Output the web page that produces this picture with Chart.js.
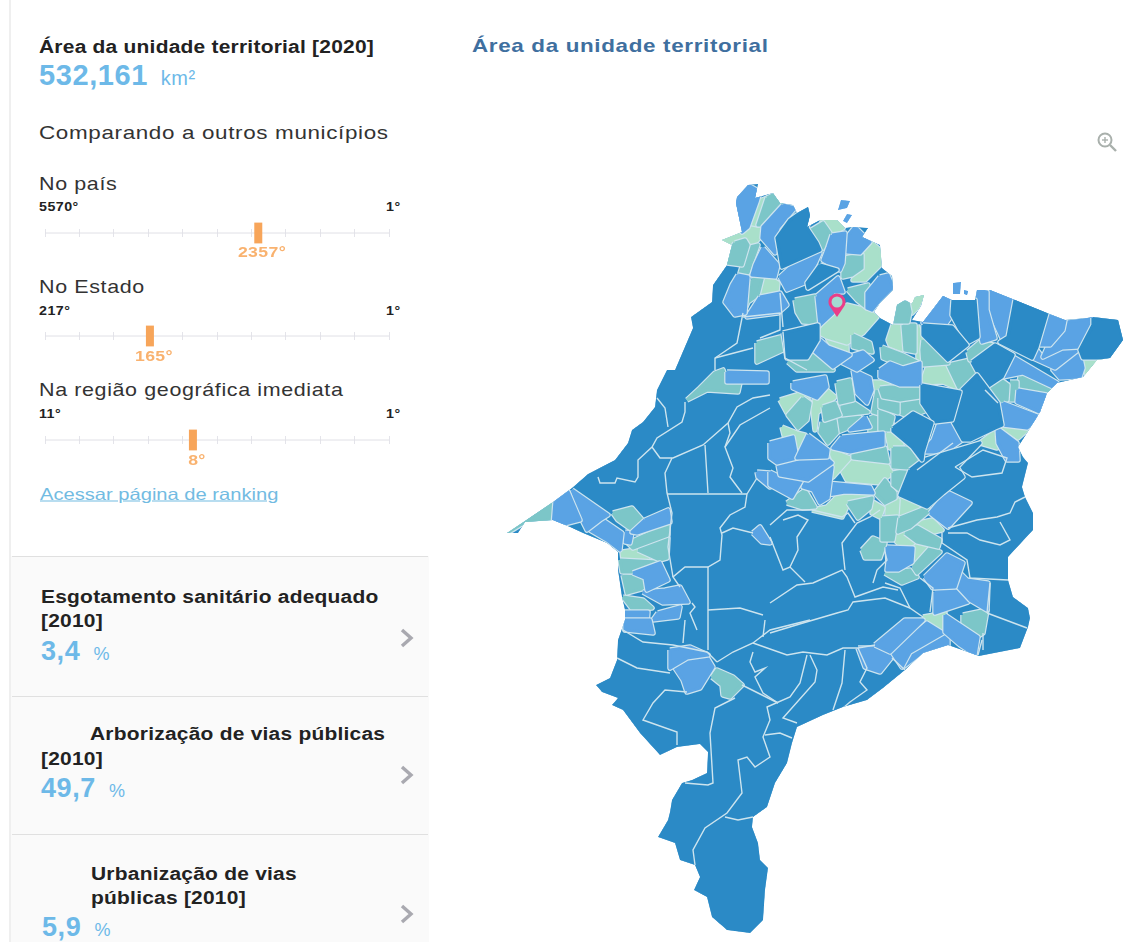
<!DOCTYPE html>
<html lang="pt">
<head>
<meta charset="utf-8">
<title>Área da unidade territorial</title>
<script src="https://cdn.jsdelivr.net/npm/chart.js@4"></script>
<style>
  html, body { margin: 0; padding: 0; background: #fff; }
  body { position: relative; width: 1132px; height: 942px; overflow: hidden; font-family: "Liberation Sans", Arial, sans-serif; color: #222; }
  canvas { position: absolute; display: block; }
  .t { position: absolute; white-space: nowrap; transform-origin: left center; transform: translateY(-50%) scaleX(var(--sx, 1)); }
  .strong { font-weight: bold; font-size: 17.6px; letter-spacing: .2px; color: #222; --sx: 1.19; }
  .sub { font-size: 19px; letter-spacing: .55px; color: #333; --sx: 1.13; }
  .end { font-weight: bold; font-size: 12.5px; letter-spacing: .4px; color: #222; --sx: 1.14; }
  .value { font-weight: bold; font-size: 27px; letter-spacing: .6px; color: #6db9e8; }
  .value small { font-size: 18px; font-weight: normal; margin-left: 5px; }
  .rank { font-weight: bold; font-size: 14px; letter-spacing: .3px; color: #f9b26f; transform-origin: center; transform: translate(-50%, -50%) scaleX(1.26); }
  #leftRule { position: absolute; left: 9px; top: 0; width: 2px; height: 942px; background: #efefef; }
  #lowerPanel { position: absolute; left: 11px; top: 556px; width: 418px; height: 386px; background: #fafafa; }
  .rule { position: absolute; left: 12px; width: 416px; height: 1px; background: #e0e0e0; }
  .chev { position: absolute; left: 399px; width: 16px; height: 22px; }
</style>
</head>
<body>
<div id="leftRule"></div>
<div id="lowerPanel"></div>
<div class="rule" style="top:556px"></div>
<div class="rule" style="top:696px"></div>
<div class="rule" style="top:834px"></div>

<div class="t strong" style="left:39px;top:47px">Área da unidade territorial [2020]</div>
<div class="t value" style="left:39px;top:75px;font-size:29px">532,161 <small style="font-size:20px;margin-left:4px">km²</small></div>
<div class="t sub" style="left:39px;top:133px;--sx:1.18">Comparando a outros municípios</div>

<div class="t sub" style="left:39px;top:184px">No país</div>
<div class="t end" style="left:39px;top:207px">5570°</div>
<div class="t end" style="left:386px;top:207px">1°</div>
<div class="t sub" style="left:39px;top:287px">No Estado</div>
<div class="t end" style="left:39px;top:311px">217°</div>
<div class="t end" style="left:386px;top:311px">1°</div>
<div class="t sub" style="left:39px;top:390px">Na região geográfica imediata</div>
<div class="t end" style="left:39px;top:414px">11°</div>
<div class="t end" style="left:386px;top:414px">1°</div>
<div class="t" style="left:40px;top:494px;font-size:16.5px;color:#72bbe2;text-decoration:underline;--sx:1.22">Acessar página de ranking</div>

<div class="t strong" style="left:41px;top:597px">Esgotamento sanitário adequado</div>
<div class="t strong" style="left:41px;top:621px">[2010]</div>
<div class="t value" style="left:41px;top:651px">3,4 <small>%</small></div>
<div class="t strong" style="left:90px;top:734px">Arborização de vias públicas</div>
<div class="t strong" style="left:41px;top:759px">[2010]</div>
<div class="t value" style="left:41px;top:788px">49,7 <small>%</small></div>
<div class="t strong" style="left:91px;top:874px">Urbanização de vias</div>
<div class="t strong" style="left:91px;top:898px">públicas [2010]</div>
<div class="t value" style="left:42px;top:927px">5,9 <small>%</small></div>

<svg class="chev" style="top:627px" viewBox="0 0 16 22"><polyline points="3,3 12,11 3,19" fill="none" stroke="#a9a9b0" stroke-width="3.4"/></svg>
<svg class="chev" style="top:764px" viewBox="0 0 16 22"><polyline points="3,3 12,11 3,19" fill="none" stroke="#a9a9b0" stroke-width="3.4"/></svg>
<svg class="chev" style="top:903px" viewBox="0 0 16 22"><polyline points="3,3 12,11 3,19" fill="none" stroke="#a9a9b0" stroke-width="3.4"/></svg>

<div class="t" style="left:472px;top:46px;font-weight:bold;font-size:19px;letter-spacing:.55px;color:#3f6f9f;--sx:1.18">Área da unidade territorial</div>
<svg style="position:absolute;left:1096px;top:131px" width="22" height="22" viewBox="0 0 22 22">
  <circle cx="9" cy="9" r="6.5" fill="none" stroke="#a9b0ac" stroke-width="2"/>
  <line x1="14" y1="14" x2="20" y2="20" stroke="#a9b0ac" stroke-width="2.4"/>
  <line x1="6" y1="9" x2="12" y2="9" stroke="#a9b0ac" stroke-width="1.4"/>
  <line x1="9" y1="6" x2="9" y2="12" stroke="#a9b0ac" stroke-width="1.4"/>
</svg>

<canvas id="rankCountry" width="380" height="30" style="left:35px;top:218px"></canvas>
<canvas id="rankState" width="380" height="30" style="left:35px;top:321px"></canvas>
<canvas id="rankRegion" width="380" height="30" style="left:35px;top:425px"></canvas>
<canvas id="mapChart" width="662" height="772" style="left:470px;top:170px"></canvas>

<script>
// rankings: posicao do marcador (0 = ultimo, 100 = primeiro)
const rankLabels = ['2357°', '165°', '8°'];
const rankPositions = [62, 30.5, 43];
const rankCanvases = ['rankCountry', 'rankState', 'rankRegion'];
const rankLabelTops = [252, 356, 460];

// mapa: coordenadas
const stateOutline = [[748,185],[758,184],[755,198],[773,193],[780,203],[793,205],[797,213],[808,207],[810,215],[807,227],[820,220],[837,220],[845,228],[853,227],[868,228],[862,237],[880,245],[882,268],[892,276],[893,290],[880,303],[874,312],[880,318],[893,325],[897,305],[905,300],[912,304],[915,297],[924,295],[921,306],[912,320],[923,322],[943,296],[952,300],[975,300],[977,290],[990,290],[1015,300],[1047,313],[1065,320],[1087,318],[1093,317],[1118,320],[1123,340],[1110,358],[1097,360],[1083,377],[1057,383],[1047,393],[1040,412],[1027,433],[1018,447],[1023,457],[1028,463],[1022,487],[1025,497],[1033,513],[1033,530],[1008,557],[1008,580],[1013,597],[1028,608],[1030,618],[1028,627],[1020,648],[979,656],[948,645],[923,653],[905,670],[883,688],[867,700],[843,707],[823,715],[797,727],[792,743],[787,763],[775,783],[767,807],[753,817],[752,827],[758,843],[760,860],[768,868],[765,890],[763,920],[750,933],[727,930],[712,917],[707,897],[694,890],[700,877],[695,865],[680,860],[675,843],[658,837],[668,820],[670,812],[672,800],[682,783],[692,780],[707,773],[708,752],[700,744],[677,747],[660,755],[640,733],[623,710],[612,705],[618,698],[602,692],[596,685],[610,678],[617,660],[618,640],[625,620],[625,610],[622,597],[618,570],[618,552],[607,543],[583,533],[570,527],[553,520],[525,522],[518,533],[507,533],[522,523],[553,502],[572,488],[588,474],[615,460],[628,443],[632,430],[643,422],[655,407],[657,390],[667,370],[675,370],[693,328],[691,317],[705,307],[712,302],[713,285],[727,265],[732,245],[722,240],[742,232],[736,203],[737,197]];

const islandAreas = [
  [[841,200],[850,201],[847,208],[838,210]],
  [[847,214],[852,215],[847,223],[843,221]],
  [[953,283],[961,282],[960,294],[953,294]],
  [[964,290],[968,291],[967,295],[964,294]]
];

const midBlueAreas = [
  [[748,185],[760,192],[757,202],[748,227],[742,232],[735,202]],
  [[783,205],[795,208],[778,228],[775,253],[762,238],[763,227]],
  [[763,248],[778,265],[775,277],[752,275],[755,265]],
  [[738,275],[748,277],[745,313],[735,315],[725,302],[732,285]],
  [[760,297],[780,293],[787,305],[778,313],[747,317]],
  [[780,277],[793,265],[820,253],[807,282],[787,290]],
  [[832,235],[845,233],[843,263],[840,270],[823,260],[828,247]],
  [[847,237],[855,227],[870,242],[860,253],[847,252]],
  [[817,296],[838,278],[843,292],[833,292],[828,303],[833,313],[820,325]],
  [[880,277],[888,275],[893,287],[880,300],[872,310],[867,308],[867,293]],
  [[818,338],[828,347],[850,355],[833,367],[813,350]],
  [[837,360],[863,352],[872,360],[857,370]],
  [[943,295],[952,302],[952,315],[945,325],[923,323],[923,317]],
  [[977,290],[987,292],[987,310],[995,338],[982,342],[978,323]],
  [[990,290],[1015,300],[1008,335],[1002,338],[988,308]],
  [[1048,315],[1065,320],[1063,330],[1050,345],[1037,345],[1043,330]],
  [[1067,322],[1083,320],[1093,318],[1093,325],[1080,347],[1062,348],[1043,357],[1047,348],[1063,333]],
  [[1037,350],[1043,358],[1062,350],[1078,350],[1055,368],[1033,358]],
  [[1080,353],[1083,368],[1080,377],[1060,378],[1053,370]],
  [[1013,357],[1057,383],[1053,387],[1023,373],[1003,377],[1007,367]],
  [[1018,390],[1047,395],[1042,413],[1017,402]],
  [[1003,403],[1040,417],[1027,428],[1002,425],[1000,413]],
  [[997,428],[1017,443],[1018,460],[1007,460],[998,443]],
  [[940,420],[953,420],[965,438],[945,452],[922,452],[933,440]],
  [[880,370],[890,363],[903,368],[920,363],[920,385],[900,385],[880,377]],
  [[793,383],[825,377],[827,387],[817,398],[793,388]],
  [[853,370],[870,378],[872,390],[867,403],[857,393]],
  [[865,417],[870,427],[850,430]],
  [[842,437],[883,433],[883,445],[850,452],[833,448]],
  [[808,435],[828,450],[827,457],[797,458]],
  [[770,443],[793,437],[797,458],[777,463],[770,458]],
  [[778,465],[825,457],[832,463],[808,480],[780,475]],
  [[770,472],[780,477],[803,478],[792,497],[770,485]],
  [[805,482],[832,467],[828,498],[820,503],[813,490],[803,487]],
  [[828,483],[870,487],[873,493],[845,492],[828,495]],
  [[887,547],[913,548],[912,562],[898,570],[887,570],[888,562]],
  [[925,577],[947,555],[963,563],[955,587],[933,588]],
  [[957,570],[967,580],[988,583],[987,610],[970,600],[958,587]],
  [[935,592],[955,587],[968,602],[935,613]],
  [[930,513],[947,492],[970,503],[948,527]],
  [[945,615],[963,627],[978,637],[975,655],[960,645],[945,632]],
  [[875,645],[905,620],[923,620],[890,652]],
  [[892,652],[927,623],[943,633],[910,652],[902,667]],
  [[903,667],[912,650],[948,635],[948,645],[923,652]],
  [[858,648],[883,648],[892,657],[880,672],[865,667]],
  [[670,650],[690,647],[708,655],[687,658],[670,668]],
  [[675,668],[690,657],[707,657],[713,667],[700,688],[687,692],[683,680]],
  [[625,620],[650,620],[653,633],[625,630]],
  [[555,502],[568,492],[580,520],[553,527]],
  [[572,490],[608,515],[600,520],[587,530],[582,520]],
  [[590,530],[603,520],[622,533],[620,550],[607,540]],
  [[645,520],[668,510],[670,522],[637,533],[632,532]],
  [[625,532],[632,533],[630,543],[625,542]],
  [[633,573],[660,563],[668,580],[647,590],[645,578]],
  [[643,592],[665,590],[680,587],[688,602],[663,603]],
  [[625,612],[648,612],[647,623],[625,630]],
  [[658,613],[680,607],[678,617],[653,620]],
  [[753,533],[760,527],[770,543],[762,542]],
  [[757,472],[770,473],[770,487],[758,477]],
  [[727,372],[767,373],[767,382],[727,382]]
];

const tealAreas = [
  [[767,198],[773,195],[782,203],[770,215],[763,225],[758,225]],
  [[735,243],[745,240],[748,245],[742,265],[727,263],[728,253]],
  [[750,247],[758,245],[748,273],[740,273],[745,257]],
  [[752,280],[763,275],[758,295],[748,302],[743,313]],
  [[808,232],[823,223],[830,233],[823,248],[817,240]],
  [[843,258],[862,255],[862,268],[852,275],[843,277]],
  [[795,300],[815,296],[817,323],[803,322],[797,312]],
  [[848,290],[868,285],[867,308],[857,300]],
  [[757,343],[780,337],[783,350],[757,362]],
  [[853,335],[870,343],[872,352],[853,347]],
  [[788,362],[817,353],[833,370],[797,370]],
  [[897,303],[908,302],[910,312],[908,322],[895,322]],
  [[923,340],[948,357],[948,363],[923,365],[922,350]],
  [[968,352],[980,342],[993,345],[970,360]],
  [[948,365],[970,360],[977,370],[960,390]],
  [[882,347],[903,355],[917,362],[900,365],[883,358]],
  [[903,325],[915,325],[915,352],[905,350]],
  [[997,377],[1008,385],[1007,400],[997,402],[985,390]],
  [[1010,382],[1017,382],[1017,400],[1010,400]],
  [[1020,377],[1027,375],[1052,385],[1050,392],[1018,387]],
  [[880,388],[890,387],[922,388],[920,397],[900,400],[883,397]],
  [[880,398],[898,402],[898,413],[880,407]],
  [[900,402],[920,397],[927,410],[910,417],[900,413]],
  [[880,410],[893,417],[890,430],[880,430]],
  [[893,448],[908,448],[918,463],[908,468],[893,467]],
  [[803,398],[810,403],[807,420],[798,428],[788,415]],
  [[837,383],[850,380],[853,400],[840,403]],
  [[823,407],[835,403],[840,415],[825,420]],
  [[842,403],[853,402],[868,412],[842,415]],
  [[822,422],[835,420],[837,433],[828,443],[820,432]],
  [[838,418],[860,417],[848,428],[838,432]],
  [[877,390],[892,405],[883,415],[873,412]],
  [[870,418],[882,413],[893,425],[870,432]],
  [[853,452],[885,448],[888,462],[853,458]],
  [[893,473],[907,470],[910,483],[902,492],[893,485]],
  [[787,503],[805,490],[815,507],[803,508]],
  [[848,503],[872,498],[870,508],[858,518]],
  [[875,493],[885,480],[895,493],[895,498],[885,503]],
  [[900,518],[928,507],[928,512],[910,527],[898,532]],
  [[882,518],[897,517],[893,540],[882,540]],
  [[905,533],[917,527],[940,540],[938,547],[917,542]],
  [[862,550],[873,538],[885,543],[880,558],[865,558]],
  [[913,567],[930,548],[940,552],[917,573]],
  [[885,573],[910,570],[917,577],[902,583]],
  [[963,615],[987,610],[983,633],[977,637],[963,623]],
  [[712,677],[717,670],[733,677],[742,685],[730,697],[723,695],[722,685]],
  [[553,502],[552,520],[525,522],[507,533],[522,523]],
  [[613,513],[632,508],[645,523],[632,530],[618,520]],
  [[628,543],[668,525],[668,535],[633,548]],
  [[638,550],[668,538],[667,558],[660,560]],
  [[620,560],[657,562],[633,572],[622,572]],
  [[623,575],[642,578],[645,588],[627,593]],
  [[623,597],[643,600],[652,608],[633,610]],
  [[687,400],[700,388],[715,373],[723,370],[727,382],[740,383],[738,392],[707,390]]
];

const mintAreas = [
  [[757,202],[767,198],[765,213],[758,225],[748,223]],
  [[722,240],[742,233],[748,225],[760,227],[762,235],[753,245],[745,235],[735,243],[728,245]],
  [[765,275],[778,283],[777,292],[760,295]],
  [[822,220],[840,222],[843,228],[832,233],[823,225]],
  [[862,253],[872,243],[880,250],[880,265],[865,280],[853,280],[863,270]],
  [[820,333],[830,317],[847,305],[867,310],[877,317],[863,333],[847,343],[827,337]],
  [[827,338],[847,345],[847,355],[833,347]],
  [[912,300],[923,295],[918,307],[912,313]],
  [[1093,325],[1100,342],[1093,345],[1082,348]],
  [[1083,358],[1103,360],[1087,377]],
  [[1002,427],[1027,430],[1018,438]],
  [[980,443],[997,430],[997,448]],
  [[945,365],[962,390],[943,382],[922,383],[927,368]],
  [[893,325],[903,327],[903,350],[890,345],[888,340]],
  [[917,325],[923,340],[927,360],[918,358]],
  [[990,383],[997,377],[1008,385]],
  [[887,433],[898,433],[903,448],[890,448]],
  [[780,400],[803,393],[810,402],[797,413],[787,413]],
  [[782,427],[797,433],[805,435],[798,447],[787,447]],
  [[812,403],[827,390],[835,397],[817,413],[815,430]],
  [[873,382],[890,382],[885,393],[875,392]],
  [[830,450],[850,458],[833,477],[835,463]],
  [[838,463],[850,460],[887,465],[892,473],[880,483],[847,480]],
  [[812,510],[827,507],[837,497],[850,492],[870,495],[850,500],[842,517]],
  [[873,502],[883,508],[880,517],[872,513]],
  [[887,505],[898,500],[897,515],[887,515]],
  [[900,498],[913,500],[918,507],[898,515]],
  [[918,523],[932,520],[942,530],[930,533]],
  [[893,538],[903,533],[913,543],[902,547]],
  [[913,543],[927,547],[918,562],[913,562]],
  [[923,617],[945,613],[945,632],[933,632]],
  [[622,552],[635,550],[648,558],[623,560]]
];

// municipios escuros no meio das areas claras
const darkAreas = [
  [[893,428],[913,413],[932,423],[923,452],[922,460],[912,447],[893,431]],
  [[922,385],[960,392],[952,420],[935,422],[922,403]],
  [[960,392],[977,375],[998,403],[1002,425],[995,428],[970,440],[963,440],[952,420]],
  [[923,325],[952,327],[967,345],[948,360],[923,335]],
  [[953,300],[975,300],[978,337],[967,343],[952,315]],
  [[1015,300],[1047,313],[1037,347],[1032,358],[1000,342],[1008,337]],
  [[1093,318],[1118,320],[1123,340],[1110,358],[1083,358],[1080,350],[1093,325]],
  [[972,362],[995,345],[1013,355],[1002,377],[987,387],[978,373]],
  [[808,207],[810,217],[807,228],[817,243],[820,250],[782,267],[777,238],[790,220]],
  [[820,265],[837,270],[808,288],[807,283]],
  [[783,333],[817,325],[818,340],[807,358],[787,358]],
  [[910,470],[923,460],[980,443],[957,467],[963,477],[943,493],[927,507],[900,495]]
];

const borderLines = [
  [[743,313],[737,343],[715,358],[715,370]],
  [[715,358],[753,348]],
  [[743,317],[780,313],[780,330],[760,338]],
  [[780,293],[783,327]],
  [[783,332],[785,358],[807,370]],
  [[917,470],[953,443]],
  [[985,390],[998,403]],
  [[948,528],[977,520],[997,517],[1010,513],[1015,502],[1025,497]],
  [[948,533],[967,533],[980,540],[1000,545],[1010,540],[1000,522]],
  [[942,533],[942,543],[967,560],[970,578],[1008,580]],
  [[955,467],[983,450],[1007,458],[1002,473],[972,477],[955,467]],
  [[990,583],[987,613]],
  [[987,613],[1027,628]],
  [[983,633],[983,650]],
  [[885,583],[900,588],[910,608],[923,617]],
  [[920,578],[933,588],[930,612]],
  [[770,603],[797,585],[813,583],[842,570],[847,577],[855,597],[883,587],[898,590]],
  [[770,633],[803,623],[837,613],[848,610],[853,602],[885,598],[910,608]],
  [[845,570],[842,543],[857,523],[870,517],[880,510]],
  [[770,537],[783,570],[790,567],[805,582]],
  [[790,567],[798,550],[797,537],[808,520],[798,515],[783,520]],
  [[770,525],[787,510],[812,510],[842,517],[848,513],[855,523]],
  [[885,552],[887,560],[877,570],[873,583]],
  [[657,398],[665,408],[668,427]],
  [[685,402],[685,412],[682,422],[657,438],[652,447],[638,460],[638,477],[635,482],[617,478],[615,483],[600,483],[598,477]],
  [[652,447],[660,458],[673,458],[703,445],[728,423],[737,407],[753,398],[770,395]],
  [[672,458],[665,473],[667,493],[672,513],[668,547],[673,577]],
  [[667,494],[747,494]],
  [[705,445],[708,493]],
  [[728,423],[730,433],[725,447],[733,468],[730,477],[742,493]],
  [[725,447],[740,425],[770,408]],
  [[747,494],[757,478]],
  [[747,494],[745,507],[730,515],[720,528],[722,535],[720,560],[708,567],[685,567],[673,577],[680,587]],
  [[722,533],[733,528],[753,533]],
  [[708,567],[708,650]],
  [[692,603],[695,607],[690,613],[697,630]],
  [[708,610],[740,608],[763,615]],
  [[685,620],[683,643]],
  [[623,630],[643,642],[673,645],[707,652],[717,662]],
  [[617,658],[637,668],[670,673]],
  [[717,662],[733,652],[753,643],[770,630],[810,620]],
  [[765,620],[763,637]],
  [[753,643],[787,655],[803,652],[827,655],[843,648],[858,648],[875,645]],
  [[753,652],[750,662],[755,672],[765,668],[755,677],[763,693],[778,703]],
  [[742,685],[778,703]],
  [[807,655],[800,683],[790,697],[767,707],[770,720],[763,737],[770,757],[755,767],[747,757],[738,760],[742,793],[727,813],[705,828],[693,850],[695,865]],
  [[810,655],[817,670],[815,682],[783,718],[797,723]],
  [[845,650],[842,683],[833,710]],
  [[765,735],[780,733],[792,738]],
  [[725,817],[738,820],[753,817]],
  [[858,648],[867,668],[860,682],[867,690],[850,702],[843,708]],
  [[892,658],[905,670]],
  [[735,698],[715,708],[710,733],[713,783],[708,785],[685,783]],
  [[687,692],[665,690],[653,703],[643,720],[677,732],[677,745]],
  [[978,655],[982,640]]
];

const pinPoint = [[837,305]];

const darkBlue = '#2b8ac6';
const midBlue = '#5aa3e4';
const teal = '#7cc6c8';
const mint = '#a9e0ca';
const edge = '#cde4ee';

const toPoints = list => list.map(p => ({ x: p[0], y: p[1] }));

function shapeDataset(shape, color, stroke, width) {
  return {
    data: toPoints(shape.concat([shape[0]])),
    showLine: true,
    fill: 'shape',
    backgroundColor: color,
    borderColor: stroke,
    borderWidth: width,
    borderJoinStyle: 'round',
    pointRadius: 0,
    tension: 0
  };
}

// cada municipio: anel claro por baixo e a cor por cima, assim os vizinhos encostam
function areaDatasets(shape, color) {
  return [shapeDataset(shape, color, color, 3.2), shapeDataset(shape, color, edge, 5.6)];
}

function lineDataset(shape) {
  return {
    data: toPoints(shape),
    showLine: true,
    fill: false,
    borderColor: edge,
    borderWidth: 1.4,
    pointRadius: 0,
    tension: 0
  };
}

// marcador rosa usado como pointStyle
function makePin() {
  const c = document.createElement('canvas');
  c.width = 24;
  c.height = 28;
  const g = c.getContext('2d');
  g.beginPath();
  g.arc(12, 11, 8.5, Math.PI * 0.85, Math.PI * 0.15);
  g.lineTo(12, 26);
  g.closePath();
  g.fillStyle = '#ea3d88';
  g.fill();
  g.beginPath();
  g.arc(12, 11, 5.5, 0, Math.PI * 2);
  g.fillStyle = '#a3dcd2';
  g.fill();
  return c;
}

// recorta tudo pelo contorno do estado
const clipToState = {
  id: 'clipToState',
  beforeDatasetsDraw(chart) {
    const { ctx, scales } = chart;
    ctx.save();
    ctx.beginPath();
    [stateOutline, ...islandAreas].forEach(shape => {
      shape.forEach((p, i) => {
        const px = scales.x.getPixelForValue(p[0]);
        const py = scales.y.getPixelForValue(p[1]);
        if (i === 0) ctx.moveTo(px, py); else ctx.lineTo(px, py);
      });
      ctx.closePath();
    });
    ctx.clip();
  },
  afterDatasetsDraw(chart) {
    chart.ctx.restore();
  }
};

// o primeiro dataset fica por cima
const mapDatasets = [
  { data: toPoints(pinPoint), pointStyle: makePin(), pointRadius: 14, showLine: false, clip: false },
  ...borderLines.map(lineDataset),
  ...darkAreas.flatMap(s => areaDatasets(s, darkBlue)),
  ...midBlueAreas.flatMap(s => areaDatasets(s, midBlue)),
  ...tealAreas.flatMap(s => areaDatasets(s, teal)),
  ...mintAreas.flatMap(s => areaDatasets(s, mint)),
  ...islandAreas.map(s => shapeDataset(s, midBlue, midBlue, 1)),
  shapeDataset(stateOutline, darkBlue, darkBlue, 1)
];

new Chart(document.getElementById('mapChart'), {
  type: 'scatter',
  data: { datasets: mapDatasets },
  plugins: [clipToState],
  options: {
    responsive: false,
    animation: false,
    events: [],
    layout: { padding: 0, autoPadding: false },
    plugins: { legend: { display: false }, tooltip: { enabled: false } },
    scales: {
      x: { type: 'linear', display: false, min: 470, max: 1132 },
      y: { type: 'linear', display: false, min: 170, max: 942, reverse: true }
    }
  }
});

rankCanvases.forEach((id, i) => {
  const pos = rankPositions[i];
  const chart = new Chart(document.getElementById(id), {
    type: 'scatter',
    data: {
      datasets: [
        {
          data: [{ x: pos, y: -2.6 }, { x: pos, y: 2.6 }],
          showLine: true,
          borderColor: '#f7a55a',
          borderWidth: 8,
          borderCapStyle: 'butt',
          pointRadius: 0,
          clip: false
        },
        {
          data: [{ x: 0, y: 0 }, { x: 100, y: 0 }],
          showLine: true,
          borderColor: '#e0e0e6',
          borderWidth: 1,
          pointRadius: 0
        }
      ]
    },
    options: {
      responsive: false,
      animation: false,
      events: [],
      layout: { padding: { left: 10, right: 26, top: 11, bottom: 11 } },
      plugins: { legend: { display: false }, tooltip: { enabled: false } },
      scales: {
        x: {
          type: 'linear', min: 0, max: 100, display: true,
          border: { display: false },
          grid: { color: '#e4e4ea', drawTicks: false },
          ticks: { display: false, stepSize: 10 }
        },
        y: { type: 'linear', min: -1, max: 1, display: false }
      }
    }
  });
  const label = document.createElement('div');
  label.className = 't rank';
  label.textContent = rankLabels[i];
  label.style.left = (35 + chart.scales.x.getPixelForValue(pos) + 4) + 'px';
  label.style.top = rankLabelTops[i] + 'px';
  document.body.appendChild(label);
});
</script>
</body>
</html>
